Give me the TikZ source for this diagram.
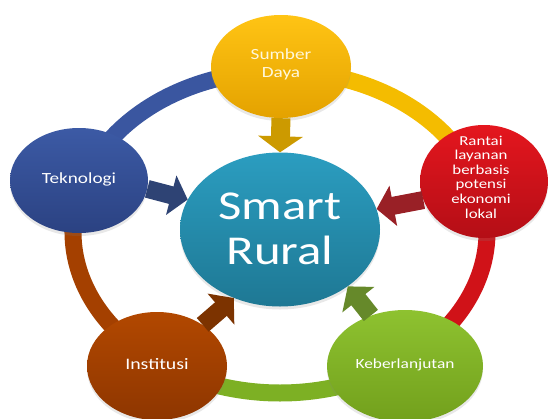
\documentclass[tikz,border=0pt]{standalone}
\usepackage{fontspec}
\newfontfamily\calfont[FakeStretch=1.24]{Carlito}
\usetikzlibrary{shapes.geometric,arrows.meta,calc,shadows}
\definecolor{ringB}{HTML}{3A56A0}
\definecolor{ringY}{HTML}{F4BC00}
\definecolor{ringR}{HTML}{D01218}
\definecolor{ringBr}{HTML}{A44000}
\definecolor{ringG}{HTML}{7DB024}
\definecolor{arY}{HTML}{CC9A00}
\definecolor{arB}{HTML}{2E4374}
\definecolor{arR}{HTML}{992026}
\definecolor{arBr}{HTML}{7C3300}
\definecolor{arG}{HTML}{66892A}
\begin{document}
\begin{tikzpicture}[x=1pt,y=1pt,
  ringline/.style={line width=17pt},
  blob/.style={ellipse, inner sep=0pt, draw=none,
    drop shadow={opacity=0.18, shadow xshift=0pt, shadow yshift=-3pt}},
  txt/.style={align=center, text=white, font=\calfont\fontsize{15.5}{18}\selectfont, inner sep=0pt},
  arr/.style={line width=18pt, -{Triangle[width=40pt,length=17pt]}}
]
\useasboundingbox (0,0) rectangle (549,-418);
\fill[white] (0,0) rectangle (549,-418);
% ring
\coordinate (rc) at (280,-232);
\coordinate (aR) at ($(rc)+(18:207pt and 161pt)$);
\coordinate (aS) at ($(rc)+(90:207pt and 161pt)$);
\coordinate (aT) at ($(rc)+(162:207pt and 161pt)$);
\coordinate (aI) at ($(rc)+(234:207pt and 161pt)$);
\coordinate (aK) at ($(rc)+(306:207pt and 161pt)$);
\draw[ringline, ringY] (aR) arc[start angle=18, end angle=90, x radius=207pt, y radius=161pt];
\draw[ringline, ringB] (aS) arc[start angle=90, end angle=162, x radius=207pt, y radius=161pt];
\draw[ringline, ringBr] (aT) arc[start angle=162, end angle=234, x radius=207pt, y radius=161pt];
\draw[ringline, ringG] (aI) arc[start angle=234, end angle=306, x radius=207pt, y radius=161pt];
\draw[ringline, ringR] (aK) arc[start angle=306, end angle=378, x radius=207pt, y radius=161pt];
% nodes
\node[blob, minimum width=140pt, minimum height=103pt, top color={rgb,255:red,255;green,196;blue,20}, bottom color={rgb,255:red,228;green,162;blue,0}] (sum) at (281,-66.5) {};
\node[blob, minimum width=138pt, minimum height=105pt, top color={rgb,255:red,60;green,90;blue,165}, bottom color={rgb,255:red,43;green,66;blue,130}] (tek) at (79,-180.5) {};
\node[blob, minimum width=128pt, minimum height=113pt, top color={rgb,255:red,228;green,22;blue,30}, bottom color={rgb,255:red,180;green,14;blue,22}] (ran) at (484,-181.5) {};
\node[blob, minimum width=140pt, minimum height=108pt, top color={rgb,255:red,178;green,72;blue,0}, bottom color={rgb,255:red,142;green,54;blue,0}] (ins) at (157,-366) {};
\node[blob, minimum width=156pt, minimum height=112pt, top color={rgb,255:red,142;green,194;blue,48}, bottom color={rgb,255:red,114;green,160;blue,28}] (keb) at (405,-366) {};
\node[blob, minimum width=200pt, minimum height=154pt, top color={rgb,255:red,43;green,157;blue,192}, bottom color={rgb,255:red,30;green,120;blue,148}] (cen) at (280,-229.5) {};
% arrows
\draw[arr, arY, line width=19pt, -{Triangle[width=44pt,length=16pt]}] (sum.south) -- (cen.north);
\draw[arr, arB] (tek.-7) -- (cen.162.5);
\draw[arr, arR] (ran.197) -- (cen.12);
\draw[arr, arBr] (ins.42) -- (cen.236);
\draw[arr, arG] (keb.124) -- (cen.320);
% texts
\node[txt, text={rgb,255:red,255;green,248;blue,220}] (sumT) at (sum.center) [yshift=2pt] {Sumber\\Daya};
\node[txt] (tekT) at (79,-179) {Teknologi};
\node[txt, font=\calfont\fontsize{13.6}{14.6}\selectfont] (ranT) at (481,-177) {Rantai\\layanan\\berbasis\\potensi\\ekonomi\\lokal};
\node[txt, font=\calfont\fontsize{16}{18}\selectfont] (insT) at (157,-364) {Institusi};
\node[txt, font=\calfont\fontsize{14}{17}\selectfont] (kebT) at (405,-365) {Keberlanjutan};
\node[txt, font=\calfont\fontsize{41}{45}\selectfont] (cenT) at (280,-228.5) {Smart\\Rural};
\end{tikzpicture}
\end{document}
